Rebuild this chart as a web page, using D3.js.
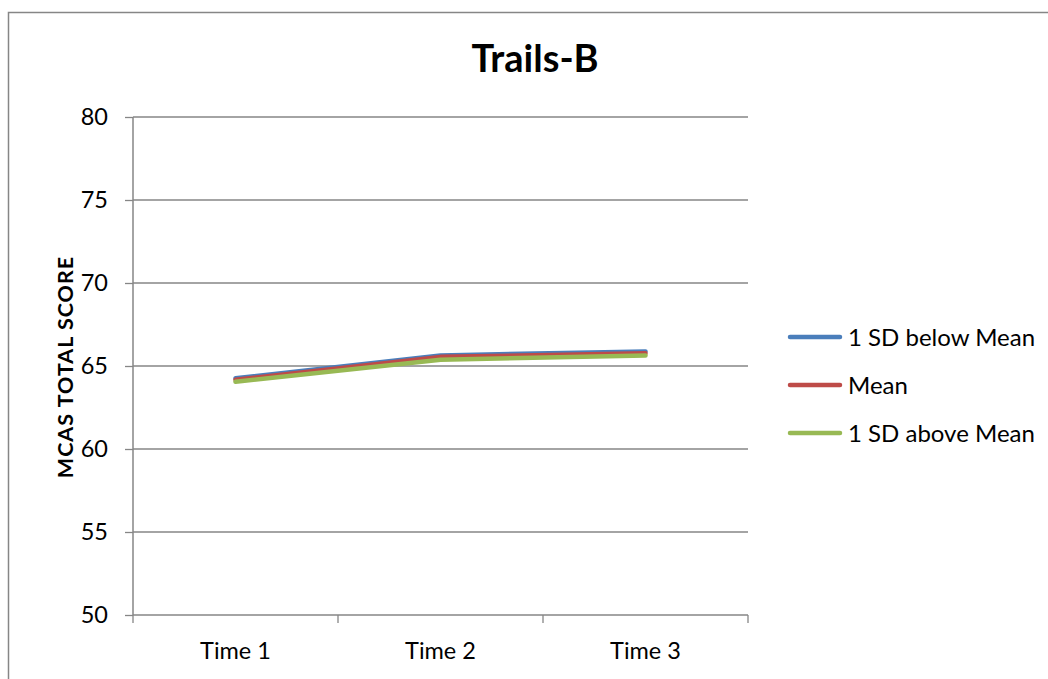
<!DOCTYPE html>
<html><head><meta charset="utf-8">
<script src="https://cdn.jsdelivr.net/npm/d3@7"></script>
<style>body{margin:0;background:#fff}svg{display:block}text{font-family:Lato,"Open Sans",sans-serif}</style>
</head><body>
<svg id="c" width="1048" height="679"></svg>
<script>
const categories = ["Time 1","Time 2","Time 3"];
const seriesNames = ["1 SD below Mean","Mean","1 SD above Mean"];
const below = [64.26, 65.64, 65.88];
const mean = [64.17, 65.55, 65.77];
const above = [64.05, 65.38, 65.64];
const yTicks = [50,55,60,65,70,75,80];
const colors = ["#4a7ebb","#be4b48","#98b954"];
const seriesValues = [below, mean, above];

const svg = d3.select("#c");
svg.append("rect").attr("x",8.5).attr("y",12.5).attr("width",1100).attr("height",700)
  .attr("fill","#fff").attr("stroke","#868686").attr("stroke-width",1.5);

const L=133, R=748, T=117, B=615;
const x = d3.scaleBand().domain(categories).range([L,R]);
const y = d3.scaleLinear().domain([50,80]).range([B,T]);

// gridlines
svg.append("g").selectAll("line").data(yTicks.filter(d=>d>50)).join("line")
  .attr("x1",L).attr("x2",R).attr("y1",d=>y(d)).attr("y2",d=>y(d))
  .attr("stroke","#868686").attr("stroke-width",1.3);

// y axis
const ya = svg.append("g").attr("transform",`translate(${L},0)`)
  .call(d3.axisLeft(y).tickValues(yTicks).tickSize(8).tickPadding(17));
ya.select(".domain").attr("stroke","#868686").attr("stroke-width",1.5).attr("d",`M0,${T}V${B}`);
ya.selectAll(".tick line").attr("stroke","#868686").attr("stroke-width",1.3);
ya.selectAll(".tick text").attr("font-size",23.5).attr("fill","#000");

// x axis
const xa = svg.append("g").attr("transform",`translate(0,${B})`)
  .call(d3.axisBottom(x).tickSize(0));
xa.select(".domain").attr("stroke","#868686").attr("stroke-width",1.5).attr("d",`M${L},0H${R}`);
xa.selectAll(".tick text").attr("font-size",23.5).attr("fill","#000").attr("y",44).attr("dy",0);
const bounds = [L, ...categories.map(c=>x(c)+x.bandwidth())];
xa.append("g").selectAll("line").data(bounds).join("line")
  .attr("x1",d=>d).attr("x2",d=>d).attr("y1",0).attr("y2",8)
  .attr("stroke","#868686").attr("stroke-width",1.3);

// lines
const line = d3.line().x((d,i)=>x(categories[i])+x.bandwidth()/2).y(d=>y(d));
svg.append("g").selectAll("path").data(seriesValues).join("path")
  .attr("d",d=>line(d)).attr("fill","none")
  .attr("stroke",(d,i)=>colors[i]).attr("stroke-width",4.5)
  .attr("stroke-linecap","round").attr("stroke-linejoin","round");

// title
svg.append("text").attr("x",535).attr("y",72).attr("text-anchor","middle")
  .attr("font-size",38).attr("font-weight","bold").text("Trails-B");

// y label
svg.append("text").attr("transform","translate(73,367) rotate(-90)").attr("text-anchor","middle")
  .attr("font-size",21.5).attr("font-weight","bold").attr("letter-spacing",1).text("MCAS TOTAL SCORE");

// legend
const lg = svg.append("g").selectAll("g").data(seriesNames).join("g")
  .attr("transform",(d,i)=>`translate(790,${337+i*48})`);
lg.append("line").attr("x1",0).attr("x2",50).attr("stroke",(d,i)=>colors[i])
  .attr("stroke-width",4.5).attr("stroke-linecap","round");
lg.append("text").attr("x",58).attr("y",9).attr("font-size",24).text(d=>d);
</script>
</body></html>
